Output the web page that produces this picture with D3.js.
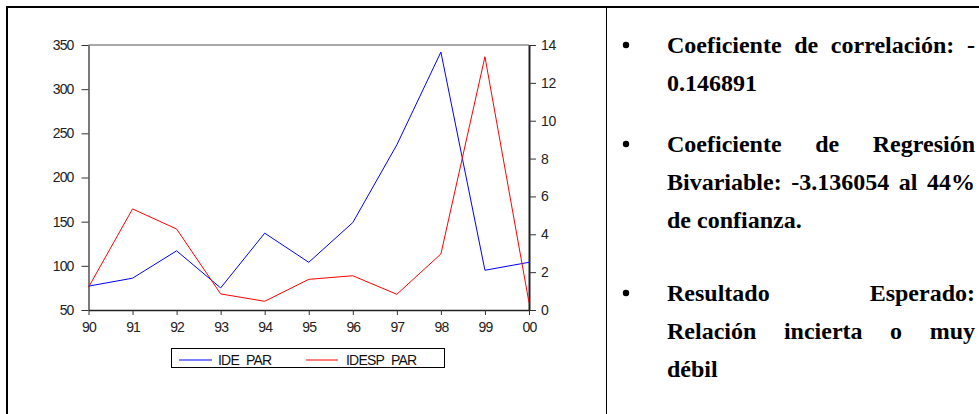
<!DOCTYPE html>
<html><head><meta charset="utf-8">
<script src="https://cdn.jsdelivr.net/npm/d3@7"></script>
<style>
html,body{margin:0;padding:0;background:#fff;}
svg{display:block;}
</style></head>
<body>
<script>
const years = ["90","91","92","93","94","95","96","97","98","99","00"];
const idePar = [77, 86, 117, 75, 137, 104, 149, 237, 342, 95, 104];
const idespPar = [1.2, 5.34, 4.28, 0.85, 0.46, 1.62, 1.81, 0.83, 2.96, 13.38, 0.39];
const leftTicks = [50, 100, 150, 200, 250, 300, 350];
const rightTicks = [0, 2, 4, 6, 8, 10, 12, 14];
const seriesNames = ["IDE_PAR", "IDESP_PAR"];
const seriesColors = ["#0000ff", "#ff0000"];
const textLines = [
  {t:"Coeficiente de correlación: -", bullet:true, justify:true},
  {t:"0.146891"},
  {t:"Coeficiente de Regresión", bullet:true, justify:true},
  {t:"Bivariable: -3.136054 al 44%", justify:true},
  {t:"de confianza."},
  {t:"Resultado Esperado:", bullet:true, justify:true},
  {t:"Relación incierta o muy", justify:true},
  {t:"débil"}
];
const lineY = [45, 83, 144, 182, 220, 293, 331, 369];

const W = 979, H = 414;
const svg = d3.select("body").append("svg").attr("width", W).attr("height", H);

// outer frame
svg.append("line").attr("x1",6).attr("x2",W).attr("y1",7).attr("y2",7).attr("stroke","#000").attr("stroke-width",2);
svg.append("line").attr("x1",7).attr("x2",7).attr("y1",6).attr("y2",H).attr("stroke","#000").attr("stroke-width",2);
svg.append("line").attr("x1",606.5).attr("x2",606.5).attr("y1",7).attr("y2",H).attr("stroke","#000").attr("stroke-width",1);

const m = {l:88.5, r:529, t:45, b:310};
const x = d3.scalePoint().domain(years).range([m.l, m.r]);
const yL = d3.scaleLinear().domain([50,350]).range([m.b, m.t]);
const yR = d3.scaleLinear().domain([0,14]).range([m.b, m.t]);

const axFont = "'Liberation Sans', Arial, sans-serif";

// top frame line
svg.append("line").attr("x1",m.l).attr("x2",m.r).attr("y1",m.t).attr("y2",m.t).attr("stroke","#555").attr("stroke-width",1);

const gL = svg.append("g").attr("transform",`translate(${m.l},0)`)
  .call(d3.axisLeft(yL).tickValues(leftTicks).tickSize(7).tickPadding(8).tickSizeOuter(0));
const gR = svg.append("g").attr("transform",`translate(${m.r},0)`)
  .call(d3.axisRight(yR).tickValues(rightTicks).tickSize(7).tickPadding(5).tickSizeOuter(0));
const gX = svg.append("g").attr("transform",`translate(0,${m.b})`)
  .call(d3.axisBottom(x).tickSize(5).tickPadding(5).tickSizeOuter(0));

[gL,gR,gX].forEach(g=>{
  g.selectAll("text").attr("font-family",axFont).attr("font-size","14px").attr("fill","#222").style("letter-spacing","-0.9px");
  g.selectAll("line").attr("stroke","#333");
  g.select(".domain").attr("stroke","#222");
});
gR.selectAll("text").style("letter-spacing","-0.4px");
gL.select(".domain").attr("stroke-width",1.2);
gR.select(".domain").attr("stroke-width",2);
gX.select(".domain").attr("stroke-width",1.5);
gX.selectAll("text").attr("dy","0.85em");

const lineL = d3.line().x((d,i)=>x(years[i])).y(d=>yL(d));
const lineR = d3.line().x((d,i)=>x(years[i])).y(d=>yR(d));
svg.append("path").datum(idePar).attr("d",lineL).attr("fill","none").attr("stroke",seriesColors[0]).attr("stroke-width",1);
svg.append("path").datum(idespPar).attr("d",lineR).attr("fill","none").attr("stroke",seriesColors[1]).attr("stroke-width",1);

// legend
const lg = svg.append("g");
lg.append("rect").attr("x",171.5).attr("y",348.5).attr("width",273).attr("height",19).attr("fill","#fff").attr("stroke","#000").attr("stroke-width",1);
const legX = [[179,212,218],[306,338,346]];
seriesNames.forEach((n,i)=>{
  lg.append("line").attr("x1",legX[i][0]).attr("x2",legX[i][1]).attr("y1",360).attr("y2",360).attr("stroke",seriesColors[i]).attr("stroke-width",1);
  lg.append("text").attr("x",legX[i][2]).attr("y",364.5).text(n).attr("font-family",axFont).attr("font-size","14px").attr("fill","#111").style("letter-spacing","-0.8px");
});

// right text block
const tx0 = 667, tx1 = 975;
const tf = "'Liberation Serif','Times New Roman',serif";
const FS = "24px";
const tg = svg.append("g");
textLines.forEach((L,i)=>{
  const yy = lineY[i] + 8;
  if (L.bullet) tg.append("circle").attr("cx",626).attr("cy",lineY[i]).attr("r",3.2).attr("fill","#000");
  if (L.justify) {
    const words = L.t.split(" ");
    const ws = words.map(w=>{
      const t = tg.append("text").attr("y",yy).text(w).attr("font-family",tf).attr("font-weight","bold").attr("font-size",FS).attr("fill","#000");
      return {t, w:t.node().getComputedTextLength()};
    });
    const total = d3.sum(ws,d=>d.w);
    const gap = (tx1-tx0-total)/(words.length-1);
    let cx = tx0;
    ws.forEach(d=>{ d.t.attr("x",cx); cx += d.w + gap; });
  } else {
    tg.append("text").attr("x",tx0).attr("y",yy).text(L.t).attr("font-family",tf).attr("font-weight","bold").attr("font-size",FS).attr("fill","#000");
  }
});
</script>
</body></html>
